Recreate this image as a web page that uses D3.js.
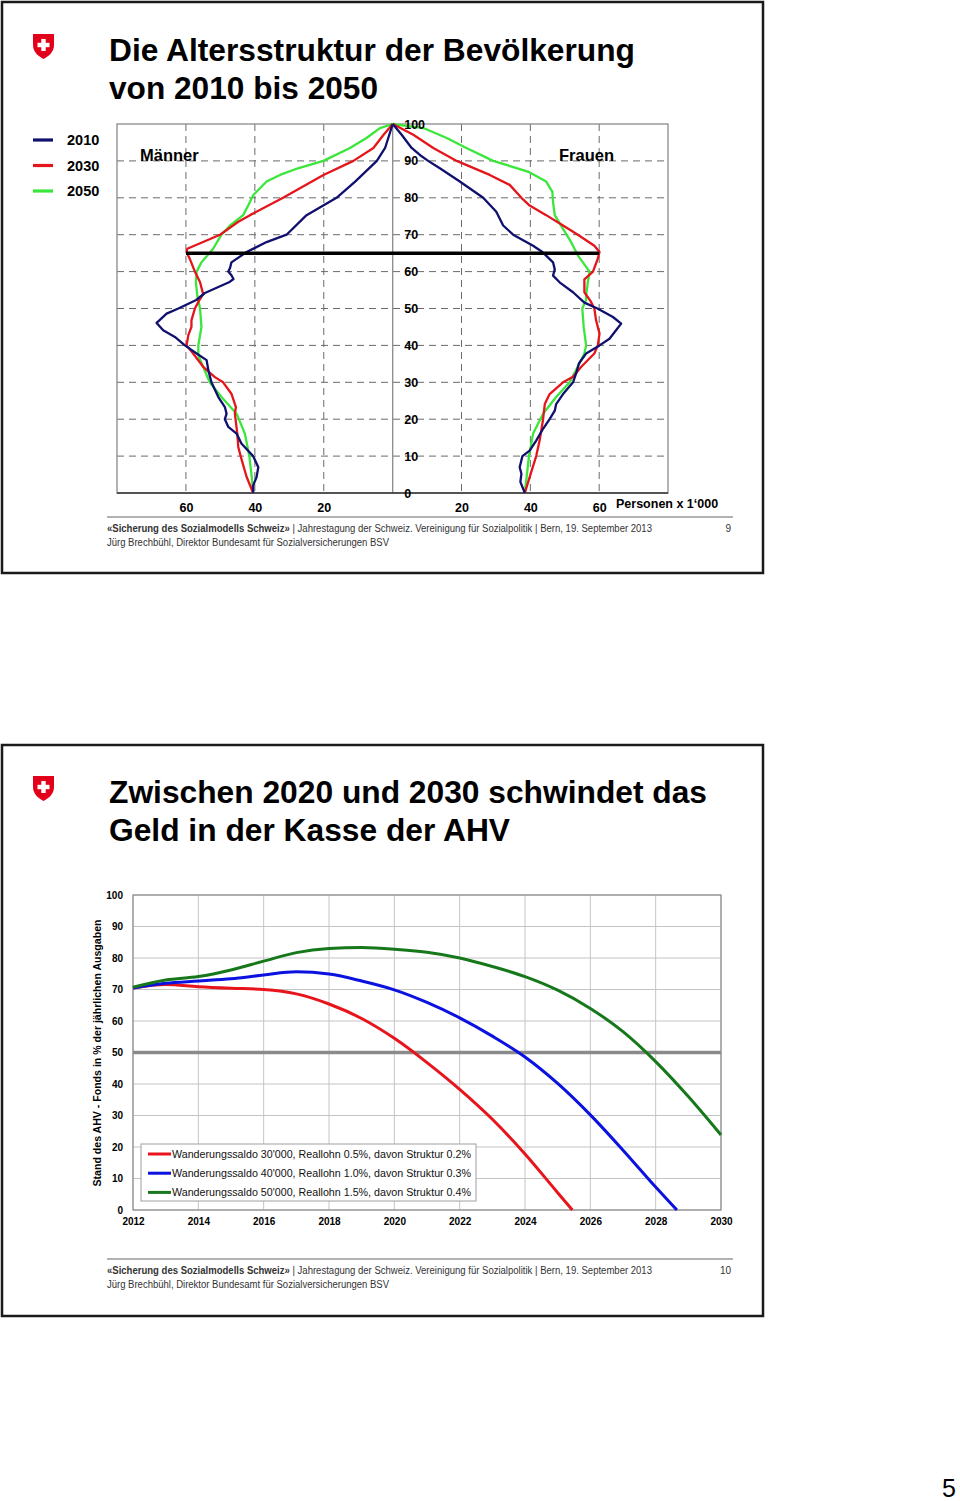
<!DOCTYPE html>
<html><head><meta charset="utf-8">
<script src="https://cdn.jsdelivr.net/npm/d3@7"></script>
<style>body{margin:0;background:#fff}svg{display:block}text{font-family:"Liberation Sans",Arial,sans-serif}</style>
</head><body>
<script>
// ---------- DATA: pyramid (age, population in 1000) ----------
const pyramidYears = ["2010","2030","2050"];
const menBlue2010 = [[0,40.5],[2,40.5],[4.3,39.5],[7,39],[10,40.5],[13.4,43.9],[16.1,45.3],[17.9,47.7],[20,48.7],[21.5,48.2],[23.3,48.7],[26,50.6],[30,52.6],[33.3,53.5],[36,54],[37.8,56.9],[40,60.3],[42.3,63.2],[44.1,66.6],[46.1,68.5],[48.6,65.6],[50,62.2],[52.3,57],[54.2,54.5],[57.1,47.5],[58,46.2],[59,46.8],[60,47.7],[61,47.2],[62.5,46.8],[65.3,42.4],[68,36.6],[70,30.8],[75.3,25],[80,16.3],[84.4,10.9],[90,4.6],[93.5,2.2],[100,0]];
const menRed2030 = [[0,40.5],[4.4,42.4],[8.9,43.8],[12.4,44.8],[16.1,45.1],[21.5,45.8],[23.3,45.5],[26.9,46.8],[30,49.2],[31.4,51.6],[34.2,55],[37.8,57.9],[40,59.8],[42.8,59.3],[45,58.4],[46.8,58.4],[50,57.4],[52.3,56.1],[53.9,55],[57.1,55.9],[60,57.4],[63.5,58.9],[65.3,59.8],[66.2,59.6],[70,50.1],[73.5,44.8],[75.3,41.4],[80,31.8],[86.2,20.1],[90,11.4],[93.5,5.6],[97,2.7],[100,0]];
const menGreen2050 = [[0,40.5],[4.3,40.9],[10,41.6],[16.1,42.9],[21.5,45.3],[26,49.7],[30,53.1],[34.2,55],[37.3,56.4],[40,56.4],[45,55.5],[50,55.9],[53.5,56.7],[57.1,57.1],[60,56.9],[62.5,55.5],[66.2,52.1],[70,49.7],[72.5,47.2],[75.3,43.4],[78,41.9],[80.7,40.5],[84.4,36.6],[86.2,32.7],[88,27.5],[90,20.1],[93.5,12.4],[96.2,7.6],[98.9,3.7],[100,0]];
const womenBlue2010 = [[0,38.4],[3,37.1],[5.2,37.4],[7,36.9],[10,37.7],[11.5,39.8],[14.2,41.7],[17.4,43.7],[20,45.6],[22.3,47.1],[24.1,47.5],[26.8,49.5],[30,52.4],[32.4,53.3],[35.1,54.1],[37.8,56.2],[40,60.1],[41.8,63],[44.1,64.9],[45.9,66.4],[47.7,64],[50,59.5],[51.6,55.7],[54.4,52.4],[57.1,48.5],[58.9,46.6],[60.6,47.1],[62.5,46.6],[65.3,43.5],[67,40.8],[70,35],[72.5,32.1],[76.2,30.1],[80,26.3],[84.4,19.5],[88,13.7],[90,10.3],[91.6,7.9],[93.5,5.5],[97.1,2.6],[100,0]];
const womenRed2030 = [[0,38.4],[4.3,39.8],[10,41.7],[14.2,42.7],[20,43.7],[24.1,44.2],[26.8,45.6],[30,49.5],[31.5,52.4],[34.2,54.8],[37.8,58.6],[40,59.6],[43.2,60.1],[46.8,59.1],[50,58.6],[52,57.5],[54.4,55.7],[57.9,55.7],[60,58.2],[63.5,59.6],[65.3,60.1],[67,58.6],[70,53.8],[72.5,49.5],[75.3,44.6],[77.9,39.8],[80,37.4],[83.5,34],[86.2,28.2],[90,18.6],[93.5,11.8],[97.1,6],[100,0]];
const womenGreen2050 = [[0,38.4],[10,39.6],[16.1,40.8],[21.5,43.7],[26,47.5],[30,51.4],[34.2,53.8],[37.8,55.7],[40,56.2],[45,55.5],[50,55.1],[52.3,56.2],[53.5,56.2],[57.1,56.7],[60,57.2],[64.4,53.8],[67.9,51.9],[71.6,49.5],[75.3,47.1],[78.8,46.6],[81.6,46.4],[84.4,44.6],[87.1,39.3],[90,29.2],[93.5,21.4],[96.2,15.7],[98.9,8.9],[100,0]];
const retirementAge = 65;
const pyramidXTicks = [20,40,60];
const pyramidYTicks = [0,10,20,30,40,50,60,70,80,90,100];

// ---------- DATA: AHV fund (% of annual expenditure) ----------
const ahvYearTicks = [2012,2014,2016,2018,2020,2022,2024,2026,2028,2030];
const ahvValueTicks = [0,10,20,30,40,50,60,70,80,90,100];
const scenarioLabels = [
  "Wanderungssaldo 30'000, Reallohn 0.5%, davon Struktur 0.2%",
  "Wanderungssaldo 40'000, Reallohn 1.0%, davon Struktur 0.3%",
  "Wanderungssaldo 50'000, Reallohn 1.5%, davon Struktur 0.4%"];
const scenario30 = [[2012,70.5],[2013,71.6],[2014,70.9],[2015,70.4],[2016,70.0],[2017,68.6],[2018,65.4],[2019,60.8],[2020,54.5],[2021,46.8],[2022,38.3],[2023,28.8],[2024,17.8],[2025,5.5],[2025.45,0]];
const scenario40 = [[2012,70.5],[2013,72.0],[2014,72.7],[2015,73.4],[2016,74.6],[2017,75.6],[2018,74.9],[2019,72.7],[2020,69.9],[2021,65.9],[2022,61.0],[2023,55.2],[2024,48.6],[2025,40.2],[2026,30.2],[2027,19.0],[2028,7.3],[2028.65,0]];
const scenario50 = [[2012,70.7],[2013,73.0],[2014,74.1],[2015,76.2],[2016,79.0],[2017,81.7],[2018,83.0],[2019,83.3],[2020,82.8],[2021,81.8],[2022,80.0],[2023,77.3],[2024,74.1],[2025,69.8],[2026,64.0],[2027,56.6],[2028,47.1],[2029,36.0],[2030,23.8]];
const thresholdValue = 50;

// ---------- STYLE ----------
const C_BLUE="#10106e", C_RED="#e5151c", C_GREEN="#3be63b";
const C2_RED="#e8141b", C2_BLUE="#0b12e0", C2_GREEN="#17781b";

const svg = d3.select("body").append("svg").attr("width",960).attr("height",1501);
svg.append("rect").attr("width",960).attr("height",1501).attr("fill","#fff");

function slideFrame(y0){
  svg.append("rect").attr("x",2).attr("y",y0).attr("width",761).attr("height",571)
     .attr("fill","none").attr("stroke","#1a1a1a").attr("stroke-width",2.5);
}
function logo(x,y){
  const g = svg.append("g").attr("transform",`translate(${x},${y})`);
  g.append("path").attr("d","M0,0 H21 V11 C21,18.5 15,22.5 10.5,25 C6,22.5 0,18.5 0,11 Z").attr("fill","#e2001a");
  g.append("rect").attr("x",4.5).attr("y",8.8).attr("width",12).attr("height",4.4).attr("fill","#fff");
  g.append("rect").attr("x",8.3).attr("y",5).attr("width",4.4).attr("height",12).attr("fill","#fff");
}
function title(lines, y0, widths){
  lines.forEach((t,i)=>{
    svg.append("text").attr("x",109).attr("y",y0+i*38).attr("font-size",32).attr("font-weight","bold")
      .attr("fill","#000").attr("textLength",widths[i]).attr("lengthAdjust","spacingAndGlyphs").text(t);
  });
}
function footer(yLine, pageNo){
  svg.append("line").attr("x1",107).attr("x2",733).attr("y1",yLine).attr("y2",yLine).attr("stroke","#666").attr("stroke-width",1);
  const t = svg.append("text").attr("x",107).attr("y",yLine+15).attr("font-size",10).attr("fill","#333")
     .attr("textLength",545).attr("lengthAdjust","spacingAndGlyphs");
  t.append("tspan").attr("font-weight","bold").text("«Sicherung des Sozialmodells Schweiz»");
  t.append("tspan").text(" | Jahrestagung der Schweiz. Vereinigung für Sozialpolitik | Bern, 19. September 2013");
  svg.append("text").attr("x",107).attr("y",yLine+29).attr("font-size",10).attr("fill","#333")
     .attr("textLength",282).attr("lengthAdjust","spacingAndGlyphs")
     .text("Jürg Brechbühl, Direktor Bundesamt für Sozialversicherungen BSV");
  svg.append("text").attr("x",731).attr("y",yLine+15).attr("font-size",10).attr("text-anchor","end").attr("fill","#333").text(pageNo);
}

// ================= SLIDE 1 =================
slideFrame(2);
logo(33,34);
title(["Die Altersstruktur der Bevölkerung","von 2010 bis 2050"],61,[526,269]);

const pL=117, pR=668, pT=124, pB=493, cx=392.7;
const xL = d3.scaleLinear().domain([0,80]).range([cx, pL]);
const xR = d3.scaleLinear().domain([0,80]).range([cx, pR]);
const yP = d3.scaleLinear().domain([0,100]).range([pB, pT]);

const gP = svg.append("g");
gP.selectAll(".hg").data(pyramidYTicks.filter(d=>d>0&&d<100)).join("line")
  .attr("x1",pL).attr("x2",pR).attr("y1",d=>yP(d)).attr("y2",d=>yP(d))
  .attr("stroke","#6a6a6a").attr("stroke-width",1).attr("stroke-dasharray","7,5");
gP.selectAll(".vgl").data(pyramidXTicks).join("line")
  .attr("x1",d=>xL(d)).attr("x2",d=>xL(d)).attr("y1",pT).attr("y2",pB)
  .attr("stroke","#6a6a6a").attr("stroke-width",1).attr("stroke-dasharray","7,5");
gP.selectAll(".vgr").data(pyramidXTicks).join("line")
  .attr("x1",d=>xR(d)).attr("x2",d=>xR(d)).attr("y1",pT).attr("y2",pB)
  .attr("stroke","#6a6a6a").attr("stroke-width",1).attr("stroke-dasharray","7,5");
gP.append("rect").attr("x",pL).attr("y",pT).attr("width",pR-pL).attr("height",pB-pT)
  .attr("fill","none").attr("stroke","#8a8a8a").attr("stroke-width",1.3);
gP.append("line").attr("x1",cx).attr("x2",cx).attr("y1",pT).attr("y2",pB).attr("stroke","#8a8a8a").attr("stroke-width",1.3);
gP.append("line").attr("x1",pL).attr("x2",pR).attr("y1",pB).attr("y2",pB).attr("stroke","#333").attr("stroke-width",1.3);

const lineL = d3.line().x(d=>xL(d[1])).y(d=>yP(d[0]));
const lineR = d3.line().x(d=>xR(d[1])).y(d=>yP(d[0]));
[[menGreen2050,C_GREEN],[menRed2030,C_RED],[menBlue2010,C_BLUE]].forEach(([d,c])=>{
  gP.append("path").attr("d",lineL(d)).attr("fill","none").attr("stroke",c).attr("stroke-width",2.3).attr("stroke-linejoin","round");
});
[[womenGreen2050,C_GREEN],[womenRed2030,C_RED],[womenBlue2010,C_BLUE]].forEach(([d,c])=>{
  gP.append("path").attr("d",lineR(d)).attr("fill","none").attr("stroke",c).attr("stroke-width",2.3).attr("stroke-linejoin","round");
});
gP.append("line").attr("x1",xL(60)).attr("x2",xR(60)).attr("y1",yP(retirementAge)).attr("y2",yP(retirementAge))
  .attr("stroke","#000").attr("stroke-width",3.5);

const axL = d3.axisBottom(xL).tickValues(pyramidXTicks).tickSize(0).tickPadding(6);
const axR = d3.axisBottom(xR).tickValues(pyramidXTicks).tickSize(0).tickPadding(6);
[axL,axR].forEach(ax=>{
  const g = svg.append("g").attr("transform",`translate(0,${pB+4})`).call(ax);
  g.select(".domain").remove();
  g.selectAll("text").attr("font-size",12.5).attr("font-weight","bold").attr("fill","#000").attr("font-family","Liberation Sans, Arial");
});
const ayP = d3.axisRight(yP).tickValues(pyramidYTicks).tickSize(0).tickPadding(0);
const gAy = svg.append("g").attr("transform",`translate(${cx+11.5},0)`).call(ayP);
gAy.select(".domain").remove();
gAy.selectAll("text").attr("font-size",12.5).attr("font-weight","bold").attr("fill","#000").attr("font-family","Liberation Sans, Arial");
svg.append("text").attr("x",616).attr("y",508).attr("font-size",12.5).attr("font-weight","bold").text("Personen x 1‘000");
svg.append("text").attr("x",140).attr("y",161).attr("font-size",16.5).attr("font-weight","bold").text("Männer");
svg.append("text").attr("x",559).attr("y",161).attr("font-size",16.5).attr("font-weight","bold").text("Frauen");

const legCols = [C_BLUE,C_RED,C_GREEN];
pyramidYears.forEach((yr,i)=>{
  const y = 140+i*25.5;
  svg.append("line").attr("x1",33).attr("x2",53).attr("y1",y).attr("y2",y).attr("stroke",legCols[i]).attr("stroke-width",3.2);
  svg.append("text").attr("x",67).attr("y",y+5).attr("font-size",14.5).attr("font-weight","bold").text(yr);
});
footer(517,"9");

// ================= SLIDE 2 =================
slideFrame(745);
logo(33,776);
title(["Zwischen 2020 und 2030 schwindet das","Geld in der Kasse der AHV"],803,[598,401]);

const qL=133, qR=721, qT=895, qB=1210;
const xA = d3.scaleLinear().domain([2012,2030]).range([qL,qR]);
const yA = d3.scaleLinear().domain([0,100]).range([qB,qT]);
const gA = svg.append("g");
gA.selectAll(".gy").data(ahvValueTicks).join("line")
  .attr("x1",qL).attr("x2",qR).attr("y1",d=>yA(d)).attr("y2",d=>yA(d)).attr("stroke","#c4c4c4").attr("stroke-width",1);
gA.selectAll(".gx").data(ahvYearTicks).join("line")
  .attr("x1",d=>xA(d)).attr("x2",d=>xA(d)).attr("y1",qT).attr("y2",qB).attr("stroke","#c4c4c4").attr("stroke-width",1);
gA.append("rect").attr("x",qL).attr("y",qT).attr("width",qR-qL).attr("height",qB-qT).attr("fill","none").attr("stroke","#8c8c8c").attr("stroke-width",1.2);
gA.append("line").attr("x1",qL).attr("x2",qR).attr("y1",yA(thresholdValue)).attr("y2",yA(thresholdValue)).attr("stroke","#8a8a8a").attr("stroke-width",3.5);

const lineA = d3.line().x(d=>xA(d[0])).y(d=>yA(d[1])).curve(d3.curveMonotoneX);
const scen = [[scenario30,C2_RED],[scenario40,C2_BLUE],[scenario50,C2_GREEN]];
scen.forEach(([d,c])=>{
  gA.append("path").attr("d",lineA(d)).attr("fill","none").attr("stroke",c).attr("stroke-width",3).attr("stroke-linejoin","round");
});

const axA = d3.axisBottom(xA).tickValues(ahvYearTicks).tickFormat(d3.format("d")).tickSize(0).tickPadding(8);
const gxA = svg.append("g").attr("transform",`translate(0,${qB})`).call(axA);
gxA.select(".domain").remove();
gxA.selectAll("text").attr("font-size",10).attr("font-weight","bold").attr("fill","#000").attr("font-family","Liberation Sans, Arial");
const ayA = d3.axisLeft(yA).tickValues(ahvValueTicks).tickSize(0).tickPadding(10);
const gyA = svg.append("g").attr("transform",`translate(${qL},0)`).call(ayA);
gyA.select(".domain").remove();
gyA.selectAll("text").attr("font-size",10).attr("font-weight","bold").attr("fill","#000").attr("font-family","Liberation Sans, Arial");

svg.append("text").attr("transform","translate(101,1053) rotate(-90)").attr("text-anchor","middle")
  .attr("font-size",10.5).attr("font-weight","bold").attr("textLength",267).attr("lengthAdjust","spacingAndGlyphs")
  .text("Stand des AHV - Fonds in % der jährlichen Ausgaben");

svg.append("rect").attr("x",141).attr("y",1144).attr("width",335).attr("height",57).attr("fill","#fff").attr("stroke","#a0a0a0").attr("stroke-width",1);
scenarioLabels.forEach((lab,i)=>{
  const y = 1154+i*19.2;
  svg.append("line").attr("x1",148).attr("x2",171).attr("y1",y).attr("y2",y).attr("stroke",scen[i][1]).attr("stroke-width",3);
  svg.append("text").attr("x",172).attr("y",y+4).attr("font-size",10.5).attr("fill","#111")
    .attr("textLength",299).attr("lengthAdjust","spacingAndGlyphs").text(lab);
});
footer(1259,"10");

svg.append("text").attr("x",956).attr("y",1497).attr("text-anchor","end").attr("font-size",25)
  .attr("font-family","Liberation Serif, serif").text("5");
</script>
</body></html>
